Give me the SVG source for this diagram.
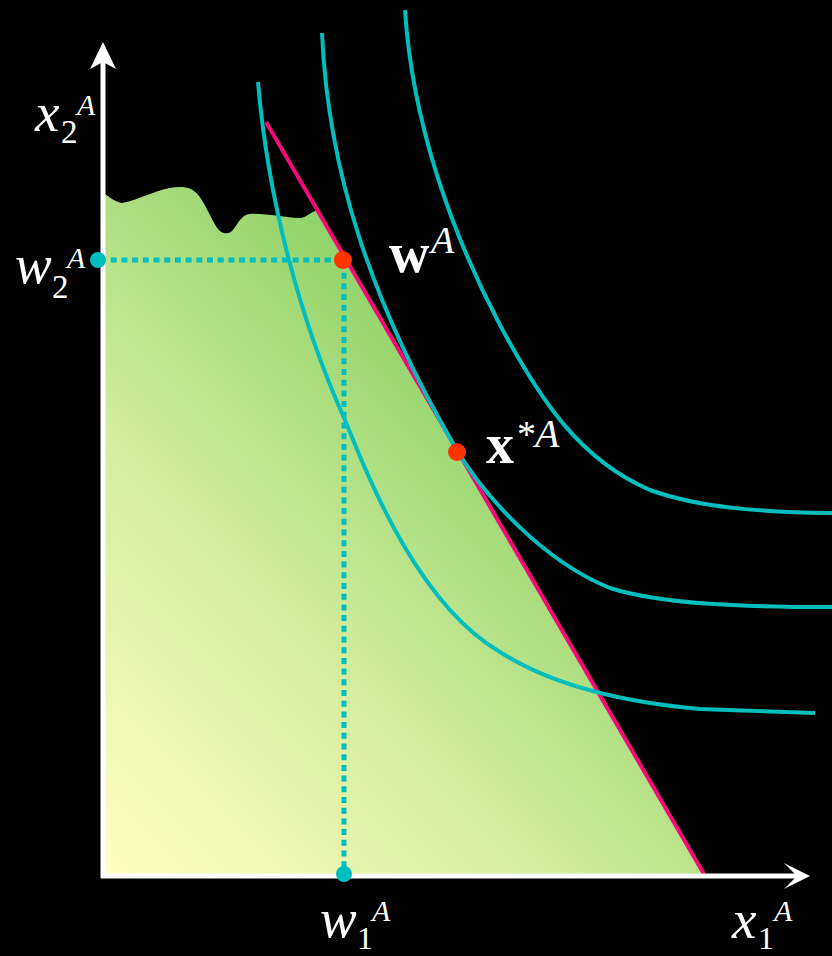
<svg xmlns="http://www.w3.org/2000/svg" width="832" height="956" viewBox="0 0 832 956">
<defs>
<linearGradient id="g" gradientUnits="userSpaceOnUse" x1="103" y1="876" x2="540" y2="440">
<stop offset="0" stop-color="#FFFFC2"/>
<stop offset="0.5" stop-color="#D6EDA0"/>
<stop offset="1" stop-color="#90D36A"/>
</linearGradient>
<style>
.ic{fill:none;stroke:#00BEBE;stroke-width:4;stroke-linecap:butt}
.dot{fill:none;stroke:#00BEBE;stroke-width:5;stroke-dasharray:6 4.7}
.ax{stroke:#FFFFFF;stroke-width:5;fill:none}
.ah{fill:#FFFFFF}
.t{font-family:"Liberation Serif","Times New Roman",serif;fill:#FFFFFF}
.i{font-style:italic}
.b{font-weight:bold}
</style>
</defs>
<rect x="0" y="0" width="832" height="956" fill="#000000"/>
<g id="region">
<path d="M103,193 C110,197 115,202 122,203 C140,200 160,187 180,187 C195,187 200,195 210,215 C218,232 222,234 228,233 C236,232 238,215 250,214 C265,213 285,218 300,218 C306,218 310,212 318,210 L704,874 L103,874 Z" fill="url(#g)"/>
</g>
<g id="connectors">
<line class="dot" x1="100" y1="260" x2="343" y2="260"/>
<line class="dot" x1="344" y1="262" x2="344" y2="872"/>
</g>
<g id="budget-line">
<line x1="266" y1="122" x2="704" y2="874" stroke="#F5087A" stroke-width="4"/>
</g>
<g id="indifference-curves">
<path class="ic" d="M258,82 C268,200 300,320 345,420 C372,487 420,605 500,652 C550,684 620,702 700,709 L815,713"/>
<path class="ic" d="M322,33 C328,170 370,300 455,447 C485,498 545,562 610,588 C660,604 740,607 832,607"/>
<path class="ic" d="M405,10 C412,120 450,230 500,325 C540,400 580,460 650,490 C700,508 760,512 832,513"/>
</g>
<g id="axes">
<line class="ax" x1="103" y1="878" x2="103" y2="60"/>
<path class="ah" d="M103,42 L116,69 L103,62 L90,69 Z"/>
<line class="ax" x1="101" y1="876" x2="798" y2="876"/>
<path class="ah" d="M810,876 L784,863 L797,876 L784,889 Z"/>
</g>
<g id="point-w2">
<circle cx="98" cy="260" r="8" fill="#00BEBE"/>
</g>
<g id="point-w1">
<circle cx="344" cy="874" r="8" fill="#00BEBE"/>
</g>
<g id="point-w">
<circle cx="343" cy="260" r="9" fill="#FF3300"/>
</g>
<g id="point-xstar">
<circle cx="457" cy="452" r="9" fill="#FF3300"/>
</g>
<g id="labels">
<text class="t i" x="35" y="131" font-size="55">x</text>
<text class="t" x="61" y="143" font-size="33">2</text>
<text class="t i" x="77" y="115" font-size="30">A</text>
<text class="t i" x="15" y="283" font-size="55">w</text>
<text class="t" x="52" y="298" font-size="33">2</text>
<text class="t i" x="67" y="268" font-size="30">A</text>
<text class="t i" x="320" y="937" font-size="55">w</text>
<text class="t" x="357" y="949" font-size="32">1</text>
<text class="t i" x="372" y="921" font-size="30">A</text>
<text class="t i" x="732" y="938" font-size="55">x</text>
<text class="t" x="758" y="949" font-size="32">1</text>
<text class="t i" x="774" y="921" font-size="30">A</text>
<text class="t b" x="389" y="272" font-size="56">w</text>
<text class="t i" x="431" y="253" font-size="38">A</text>
<text class="t b" x="486" y="463" font-size="56">x</text>
<text class="t" x="517" y="447" font-size="38">*</text>
<text class="t i" x="535" y="447" font-size="40">A</text>
</g>
</svg>
